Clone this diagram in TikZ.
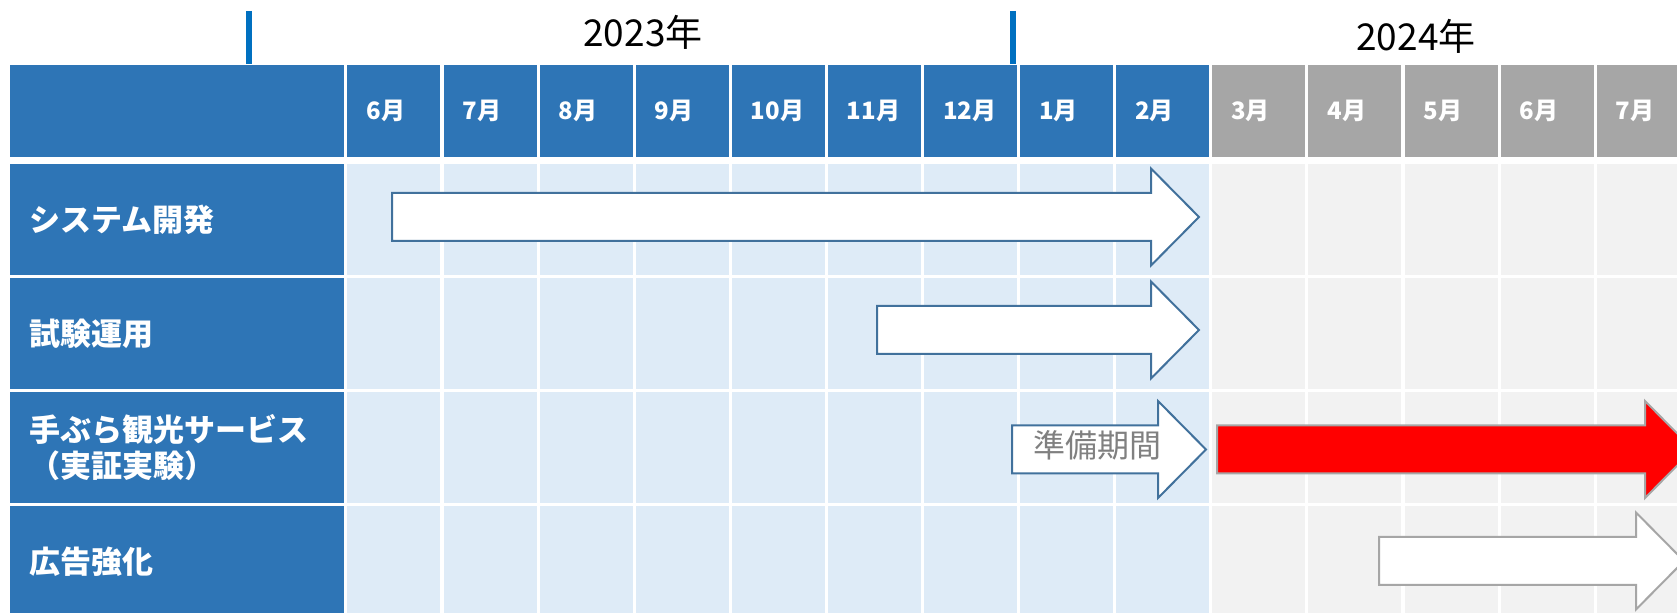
\documentclass[tikz,border=0pt]{standalone}
\usepackage{fontspec}
\setmainfont{Noto Sans CJK JP}
\usepackage{tikz}
\usetikzlibrary{positioning}
\definecolor{hdrblue}{HTML}{2E75B6}
\definecolor{hdrgray}{HTML}{A6A6A6}
\definecolor{cellblue}{HTML}{DEEBF7}
\definecolor{cellgray}{HTML}{F2F2F2}
\definecolor{arrowline}{HTML}{41719C}
\definecolor{tickblue}{HTML}{0070C0}
\definecolor{prepgray}{HTML}{808080}

\tikzset{
  month/.style={rectangle, anchor=north west, minimum width=46.5pt, minimum height=46pt,
    inner xsep=9.5pt, inner ysep=0pt, text width=27.5pt, align=left, text=white,
    font=\bfseries\fontsize{12}{14}\selectfont},
  rowlabel/.style={rectangle, anchor=north west, fill=hdrblue, minimum width=167pt,
    minimum height=55.5pt, inner xsep=9.5pt, inner ysep=0pt, text width=148pt, align=left,
    text=white, font=\bfseries\fontsize{15.5}{18}\selectfont},
  ganttcell/.style={rectangle, anchor=north west, minimum width=46.5pt, minimum height=55.5pt, inner sep=0pt},
  year/.style={font=\fontsize{18.5}{20}\selectfont},
  yeartick/.style={tickblue, line width=3pt},
  planbar/.style={draw=arrowline, fill=white, line width=1pt},
  runbar/.style={draw=hdrgray, fill=red, line width=1pt},
  laterbar/.style={draw=hdrgray, fill=white, line width=1pt},
}

% style, left end, head base, tip, centre line
\newcommand{\ganttarrow}[5]{%
  \draw[#1] (#2,#5-24) -- (#3,#5-24) -- (#3,#5-48.5) -- (#4,#5) -- (#3,#5+48.5) -- (#3,#5+24) -- (#2,#5+24) -- cycle;}

\begin{document}
\begin{tikzpicture}[x=0.5pt, y=-0.5pt]
        \useasboundingbox (0,0) rectangle (1677,613);
        \clip (0,0) rectangle (1677,613);
        \fill[white] (0,0) rectangle (1677,613);

        % Years
        \node[year] (y2023) at (643,32) {2023年};
        \node[year] (y2024) at (1416,36) {2024年};
        \draw[yeartick] (249,11) -- (249,64);
        \draw[yeartick] (1013,11) -- (1013,64);

        % Header
        \node[rowlabel, minimum height=46pt] (corner) at (10,65) {};
        \foreach \k/\m in {0/6,1/7,2/8,3/9,4/10,5/11,6/12,7/1,8/2}
            \node[month, fill=hdrblue] (m\k) at ({347+96.1*\k},65) {{\m}月};
        \foreach \k/\m in {9/3,10/4,11/5,12/6,13/7}
            \node[month, fill=hdrgray] (m\k) at ({347+96.1*\k},65) {{\m}月};

        % Grid
        \foreach \r in {0,...,3} {
            \foreach \k in {0,...,8}
                \node[ganttcell, fill=cellblue] (c\r-\k) at ({347+96.1*\k},{164+114*\r}) {};
            \foreach \k in {9,...,13}
                \node[ganttcell, fill=cellgray] (c\r-\k) at ({347+96.1*\k},{164+114*\r}) {};
        }

        % Tasks
        \node[rowlabel] (sys) at (10,164) {システム開発};
        \node[rowlabel] (trial) at (10,278) {試験運用};
        \node[rowlabel] (tebura) at (10,392) {手ぶら観光サービス\\（実証実験）};
        \node[rowlabel] (ad) at (10,506) {広告強化};

        % Bars
        \ganttarrow{planbar}{392}{1151}{1199}{217}
        \ganttarrow{planbar}{877}{1151}{1199}{330}
        \ganttarrow{planbar}{1012}{1158}{1206}{449.5}
        \node[text=prepgray, font=\fontsize{16}{18}\selectfont] (prep) at (1097,445) {準備期間};
        \ganttarrow{runbar}{1217}{1645}{1693}{449.5}
        \ganttarrow{laterbar}{1379}{1636}{1684}{561}
    \end{tikzpicture}
\end{document}
